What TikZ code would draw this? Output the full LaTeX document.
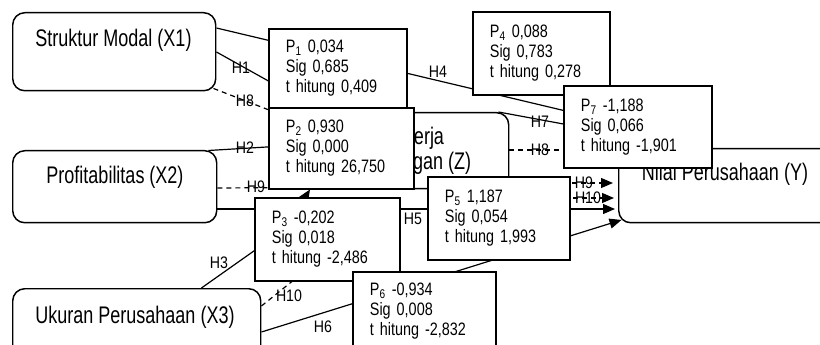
\documentclass[tikz,border=0pt]{standalone}
\usepackage{fontspec}
\usetikzlibrary{arrows.meta,calc}
\newfontfamily\nfont[FakeStretch=0.75]{Liberation Sans}
\newfontfamily\pfont[FakeStretch=0.8]{Liberation Sans}
\newfontfamily\lfont[FakeStretch=0.85]{Liberation Sans}
\begin{document}
\begin{tikzpicture}[x=0.75pt,y=-0.75pt,
  vbox/.style={draw, fill=white, rounded corners=9pt, line width=1.1pt, anchor=north west, inner sep=0pt},
  pbox/.style={draw, fill=white, line width=1.4pt, anchor=north west, align=left, inner xsep=12.75pt, inner ysep=0pt,
    font=\pfont\fontsize{13.5pt}{15pt}\selectfont},
  vlabel/.style={font=\nfont\fontsize{18pt}{18.75pt}\selectfont, inner sep=0pt},
  hl/.style={font=\lfont\fontsize{12.5pt}{13pt}\selectfont, inner sep=0pt},
  conn/.style={line width=0.9pt},
  dconn/.style={line width=0.9pt, dash pattern=on 3.75pt off 3pt},
  tip/.style={-{Triangle[length=9pt,width=7.5pt]}}
]
\useasboundingbox (0,0) rectangle (820,345);
\clip (0,0) rectangle (820,345);
\fill[white] (0,0) rectangle (820,345);

% variable boxes
\node[vbox, minimum width=152.25pt, minimum height=58.5pt] (x1) at (12,12) {};
\node[vbox, minimum width=153pt, minimum height=54pt] (x2) at (12,150) {};
\node[vbox, minimum width=186pt, minimum height=60pt] (x3) at (12,288) {};
\node[vbox, minimum width=156pt, minimum height=57pt] (z) at (300,112) {};
\node[vbox, minimum width=161.25pt, minimum height=55.5pt] (y) at (618,148) {};

\node[vlabel, anchor=base] (x1t) at (113.5,47) {Struktur Modal (X1)};
\node[vlabel, anchor=base] (x2t) at (115,184) {Profitabilitas (X2)};
\node[vlabel, anchor=base] (x3t) at (135,323) {Ukuran Perusahaan (X3)};
\node[vlabel, align=center] (zt) at (416,151) {Kinerja\\Keuangan (Z)};
\node[vlabel, anchor=base] (yt) at (725,181) {Nilai Perusahaan (Y)};

% hidden bend / free ends
\coordinate (h3b) at (285,229);
\coordinate (h10e) at (310,267);

% connectors
\draw[conn, tip] ($(x1.north east)+(0,16)$) -- ($(y.north west)+(32,-17)$); % H4
\draw[conn, tip] ($(x1.north east)+(0,40)$) -- ($(z.north west)+(24,0)$); % H1
\draw[dconn, tip] ($(x1.south east)+(-3,-3)$) -- ($(z.north west)+(0,10)$); % H8
\draw[conn, tip] ($(x2.north east)+(-9,0.5)$) -- ($(z.north west)+(0,33)$); % H2
\draw[dconn] ($(x2.north east)+(0,38)$) -- ($(z.south west)+(0,-2)$); % H9
\draw[conn, tip] ($(x2.north east)+(0,59)$) -- ($(y.north west)+(-3,61)$); % H5
\draw[conn, tip] ($(x3.north east)+(-60,0)$) -- (h3b) -- ($(z.south west)+(10,0)$); % H3
\draw[dconn] ($(x3.north east)+(0,18)$) -- (h10e); % H10
\draw[conn, tip] ($(x3.north east)+(0,44)$) -- ($(y.south west)+(3.5,-3.5)$); % H6
\draw[conn, tip] ($(z.north east)+(-11,0)$) -- ($(y.north west)+(32,-8)$); % H7
\draw[dconn, tip] ($(z.north east)+(0,38)$) -- ($(y.north west)+(2,2)$); % H8
\draw[dconn, tip] ($(z.north east)+(0,71)$) -- ($(y.north west)+(-5,35)$); % H9
\draw[dconn, tip] (z.south east) |- ($(y.north west)+(-4,50)$); % H10

% coefficient boxes
\node[pbox, minimum width=103.5pt, minimum height=59.25pt, text width=78pt] (p1) at (268,28)
  {P\textsubscript{1} 0,034\\Sig 0,685\\t hitung 0,409};
\node[pbox, minimum width=108.75pt, minimum height=60.75pt, text width=83.25pt] (p2) at (268,107)
  {P\textsubscript{2} 0,930\\Sig 0,000\\t hitung 26,750};
\node[pbox, minimum width=108.75pt, minimum height=62.25pt, text width=83.25pt] (p3) at (254,197)
  {P\textsubscript{3} -0,202\\Sig 0,018\\t hitung -2,486};
\node[pbox, minimum width=102.75pt, minimum height=62.25pt, text width=77.25pt] (p4) at (472,11)
  {P\textsubscript{4} 0,088\\Sig 0,783\\t hitung 0,278};
\node[pbox, minimum width=106.5pt, minimum height=62.25pt, text width=81pt] (p5) at (427,176)
  {P\textsubscript{5} 1,187\\Sig 0,054\\t hitung 1,993};
\node[pbox, minimum width=107.25pt, minimum height=58.5pt, text width=81.75pt] (p6) at (352,271)
  {P\textsubscript{6} -0,934\\Sig 0,008\\t hitung -2,832};
\node[pbox, minimum width=111pt, minimum height=61.5pt, text width=85.5pt] (p7) at (563,85)
  {P\textsubscript{7} -1,188\\Sig 0,066\\t hitung -1,901};

% hypothesis labels
\node[hl] (lh1) at (241,68) {H1};
\node[hl] (lh8a) at (245,101) {H8};
\node[hl] (lh4) at (438,72) {H4};
\node[hl] (lh7) at (540,122) {H7};
\node[hl] (lh8b) at (540,150) {H8};
\node[hl] (lh2) at (245,148) {H2};
\node[hl] (lh9a) at (256,187) {H9};
\node[hl] (lh9b) at (584,183) {H9};
\node[hl] (lh10b) at (588,198) {H10};
\node[hl] (lh5) at (413,219) {H5};
\node[hl] (lh3) at (219,263) {H3};
\node[hl] (lh10a) at (289,296) {H10};
\node[hl] (lh6) at (323,327) {H6};
\end{tikzpicture}
\end{document}
